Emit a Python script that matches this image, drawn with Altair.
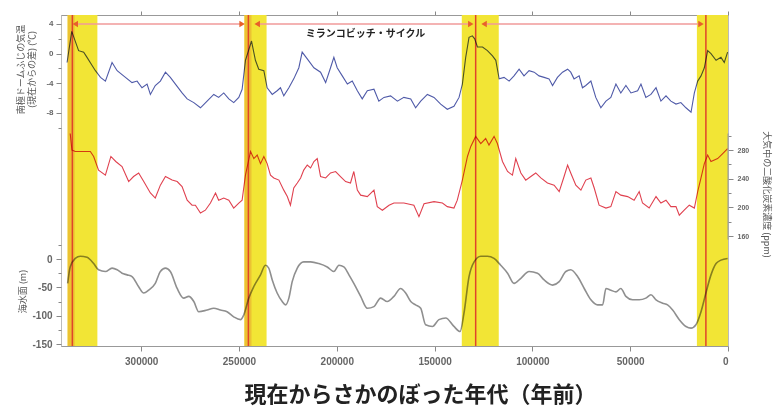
import altair as alt
import pandas as pd

# ---------------- data (kyr before present) ----------------
temp_kyr = [337.9, 335.5, 332.0, 329.4, 327.7, 325.1, 323.4, 320.8, 318.3, 314.9, 312.3, 309.0,
            304.7, 302.1, 299.6, 297.0, 295.3, 292.8, 290.2, 287.6, 285.1, 282.5, 279.1, 276.5,
            273.1, 269.7, 266.3, 262.9, 260.4, 257.8, 255.2, 252.7, 250.1, 248.4, 246.7, 243.6,
            241.6, 239.9, 237.3, 235.6, 233.0, 230.5, 228.8, 227.1, 224.5, 222.0, 219.4, 217.7,
            215.1, 211.7, 208.3, 205.7, 203.2, 201.5, 199.8, 197.2, 194.6, 192.1, 189.5, 187.0,
            184.4, 181.0, 178.5, 175.9, 172.5, 169.0, 165.7, 162.2, 159.7, 157.1, 153.7, 150.3,
            146.9, 143.5, 140.1, 137.5, 135.8, 134.1, 132.4, 130.7, 129.5, 128.1, 125.5, 123.0,
            120.4, 118.7, 117.0, 114.5, 111.9, 109.4, 106.8, 104.3, 101.7, 99.1, 96.6, 94.0,
            91.5, 89.7, 87.2, 84.6, 82.0, 80.4, 78.7, 76.1, 74.4, 72.7, 70.1, 67.6, 65.0, 62.4,
            59.9, 57.3, 54.8, 52.2, 49.6, 46.2, 44.5, 42.0, 39.4, 36.8, 34.3, 31.7, 29.2, 26.6,
            24.1, 21.5, 18.9, 17.2, 15.5, 13.8, 12.1, 10.4, 8.7, 6.1, 3.6, 1.9, 0.2]
temp_val = [-1.2, 3.0, 0.4, 0.2, -0.5, -1.6, -2.3, -3.2, -3.7, -1.2, -2.3, -3.0,
            -3.9, -3.7, -4.6, -4.1, -5.5, -4.3, -3.7, -2.5, -3.2, -4.1, -5.3, -6.1,
            -6.6, -7.3, -6.4, -5.5, -5.9, -5.3, -6.1, -6.6, -5.9, -4.8, -0.9, 1.7,
            -0.9, -2.1, -2.3, -4.6, -5.5, -5.0, -4.6, -5.7, -4.6, -3.4, -1.9, 0.2,
            -0.7, -1.9, -2.5, -3.9, -1.9, -0.5, -1.9, -3.0, -4.1, -3.7, -5.0, -6.1,
            -5.0, -4.8, -6.4, -5.9, -5.7, -6.4, -5.9, -6.1, -7.3, -6.4, -5.5, -5.9,
            -6.8, -7.5, -7.1, -5.9, -4.1, -0.5, 2.2, 2.4, 2.0, 0.9, 0.9, 0.4,
            -0.3, -0.9, -3.4, -3.2, -3.7, -3.0, -2.1, -3.0, -2.3, -2.5, -3.0, -3.2,
            -3.4, -4.3, -3.2, -2.5, -2.1, -2.5, -3.4, -3.0, -4.6, -4.3, -3.7, -5.9, -7.3, -6.4,
            -5.9, -4.1, -5.3, -4.3, -5.3, -5.0, -4.1, -5.9, -5.5, -4.6, -6.4, -5.7, -6.4, -6.8,
            -6.6, -7.3, -7.9, -5.3, -3.7, -3.0, -1.9, 0.4, 0.0, -0.9, -0.5, -1.2, 0.2]

co2_kyr = [336.3, 335.4, 333.7, 326.0, 324.3, 321.8, 318.3, 315.5, 313.0, 309.8, 306.4, 303.9,
           301.3, 298.7, 295.3, 292.8, 290.2, 287.6, 284.2, 281.6, 279.1, 276.5, 274.0, 272.3,
           269.7, 267.2, 264.6, 262.0, 260.4, 257.8, 255.2, 252.7, 250.1, 248.4, 246.7, 244.1,
           242.4, 240.7, 239.0, 237.3, 235.6, 233.9, 232.2, 229.6, 227.1, 225.3, 223.7, 222.0,
           220.2, 218.5, 216.9, 215.1, 213.4, 211.7, 210.0, 208.3, 205.7, 203.2, 200.6, 198.1,
           195.5, 193.0, 191.3, 189.5, 187.8, 184.4, 181.0, 179.3, 176.7, 173.3, 170.8, 165.7,
           160.6, 158.0, 155.4, 150.3, 146.0, 143.5, 140.1, 138.4, 135.8, 133.2, 131.5, 129.0,
           126.4, 123.9, 122.2, 119.6, 117.9, 115.3, 112.7, 110.2, 108.5, 105.9, 103.4, 100.8,
           98.3, 95.7, 92.3, 88.9, 86.3, 83.8, 82.0, 80.4, 77.8, 75.2, 72.7, 70.1, 68.4, 65.9,
           62.4, 59.9, 57.3, 54.8, 51.3, 48.0, 45.4, 43.7, 40.3, 36.8, 34.3, 31.7, 29.2, 26.6,
           24.9, 22.4, 19.8, 17.2, 15.5, 13.8, 12.1, 10.4, 8.7, 5.3, 2.7, 0.2]
co2_val = [303, 280, 278, 278, 271, 252, 245, 271, 264, 257, 236, 243,
           248, 236, 220, 213, 231, 243, 238, 236, 229, 210, 203, 203,
           192, 196, 206, 220, 210, 213, 210, 199, 206, 210, 245, 278,
           268, 273, 261, 271, 261, 245, 241, 238, 224, 215, 203, 227,
           234, 241, 252, 259, 255, 264, 268, 243, 241, 248, 250, 243,
           236, 234, 250, 224, 217, 215, 224, 201, 196, 203, 206, 206,
           203, 187, 205, 208, 206, 201, 199, 210, 238, 271, 285, 299,
           289, 296, 287, 299, 289, 264, 250, 245, 268, 248, 238, 243,
           248, 241, 234, 231, 222, 243, 259, 248, 231, 224, 238, 241, 227, 203,
           199, 201, 222, 217, 215, 210, 222, 206, 199, 215, 206, 210, 201, 201,
           189, 196, 203, 199, 222, 241, 261, 273, 264, 268, 275, 282]

sea_kyr = [337.6, 336.3, 333.7, 331.1, 327.7, 324.3, 321.8, 318.3, 314.9, 312.3, 309.8, 307.2,
           304.7, 301.3, 298.7, 296.2, 292.8, 290.2, 287.6, 285.1, 281.6, 278.3, 275.7, 273.1,
           270.6, 266.3, 262.9, 259.5, 256.1, 252.7, 249.2, 247.6, 245.0, 242.5, 239.0, 236.5,
           234.8, 233.0, 230.5, 227.9, 226.2, 224.5, 222.8, 220.2, 216.9, 213.4, 209.2, 204.9,
           201.5, 198.9, 196.4, 193.8, 191.3, 187.8, 184.4, 181.0, 177.6, 174.2, 170.8, 167.4,
           164.8, 162.2, 159.7, 157.1, 154.6, 151.1, 147.8, 144.3, 140.1, 137.0, 135.0, 132.4,
           129.8, 126.4, 123.0, 119.6, 116.2, 112.7, 109.4, 105.9, 101.7, 97.4, 94.0, 89.7,
           86.3, 82.9, 80.4, 76.9, 73.5, 70.1, 66.7, 64.1, 62.4, 59.9, 57.3, 54.8, 52.2, 48.8,
           45.4, 42.0, 39.4, 36.8, 33.4, 30.9, 28.3, 24.9, 21.5, 18.9, 16.4, 13.8, 11.3, 8.7,
           6.1, 3.6, 0.2]
sea_val = [-43, -14, 1, 5, 3, -8, -19, -22, -16, -19, -25, -28,
           -31, -49, -60, -55, -43, -22, -16, -22, -52, -69, -66, -75,
           -93, -90, -87, -90, -93, -102, -107, -99, -69, -49, -28, -11,
           -16, -37, -60, -75, -81, -69, -40, -16, -5, -5, -8, -14,
           -22, -11, -14, -28, -43, -66, -87, -84, -69, -75, -66, -52,
           -60, -75, -81, -87, -116, -119, -107, -104, -119, -128, -96, -31,
           -5, 5, 5, 1, -11, -25, -43, -34, -22, -25, -37, -46,
           -40, -22, -19, -31, -52, -72, -81, -81, -52, -55, -58, -52, -66, -72,
           -72, -69, -63, -72, -78, -81, -90, -107, -119, -122, -116, -93, -60, -28,
           -8, -2, 1]

# interglacial bands, darker strips, red lines (kyr)
band_start_kyr = [337.6, 247.2, 136.1, 15.9]
band_end_kyr = [322.4, 235.9, 117.2, 0.0]
strip_start_kyr = [337.6, 247.2]
strip_end_kyr = [334.0, 243.6]
redline_kyr = [335.2, 245.2, 129.0, 11.3]
# Milankovitch-cycle arrows
shaft_start_kyr = [333.7, 240.7, 124.7]
shaft_end_kyr = [248.4, 131.5, 13.8]
head_kyr = [333.7, 248.4, 240.7, 131.5, 124.7, 13.8]
head_shape = ["triangle-left", "triangle-right", "triangle-left",
              "triangle-right", "triangle-left", "triangle-right"]
cycle_label = "ミランコビッチ・サイクル"
cycle_label_kyr = 185.3

x_ticks = [300000, 250000, 200000, 150000, 100000, 50000, 0]
temp_ticks = [4, 2, 0, -2, -4, -6, -8, -10]
sea_ticks = [25, 0, -25, -50, -75, -100, -125, -150]
co2_ticks = [300, 280, 260, 240, 220, 200, 180, 160]

# ---------------- frames ----------------
K = 1000
temp_df = pd.DataFrame({"year": [k * K for k in temp_kyr], "v": temp_val})
co2_df = pd.DataFrame({"year": [k * K for k in co2_kyr], "v": co2_val})
sea_df = pd.DataFrame({"year": [k * K for k in sea_kyr], "v": sea_val})
band_df = pd.DataFrame({"a": [k * K for k in band_start_kyr], "b": [k * K for k in band_end_kyr]})
strip_df = pd.DataFrame({"a": [k * K for k in strip_start_kyr], "b": [k * K for k in strip_end_kyr]})
red_df = pd.DataFrame({"year": [k * K for k in redline_kyr]})
shaft_df = pd.DataFrame({"a": [k * K for k in shaft_start_kyr], "b": [k * K for k in shaft_end_kyr]})
head_df = pd.DataFrame({"year": [k * K for k in head_kyr], "shape": head_shape})
label_df = pd.DataFrame({"year": [cycle_label_kyr * K], "t": [cycle_label]})
co2_axis_df = pd.DataFrame({"year": [0], "lo": [155], "hi": [303]})

xs = alt.Scale(domain=[0, 341000], reverse=True, nice=False, zero=False)
T_DOM = [-39.42, 5.21]
C_DOM = [6.5, 468.4]
S_DOM = [-153.5, 430.6]


def LBL(size):
    return dict(labelFont="Liberation Sans", labelFontSize=size, labelColor="#666",
                labelFontWeight="bold")


def minor_expr(step):
    return f"datum.value % {step} == 0 ? replace(datum.label, '\u2212', '-') : ''"


bottom_axis = alt.Axis(orient="bottom", values=x_ticks, format="d", tickSize=5,
                       labelPadding=5, grid=False,
                       title="現在からさかのぼった年代（年前）",
                       titleFont="Noto Sans CJK JP", titleFontSize=22,
                       titleFontWeight="bold", titleColor="#222",
                       titleX=359, titleY=48, titleBaseline="middle", titleAlign="center",
                       **LBL(10))
top_axis = alt.Axis(orient="top", values=x_ticks, labels=False, tickSize=4, grid=False,
                    title=None)


def X(field, axis=None):
    return alt.X(f"{field}:Q", scale=xs, axis=axis, title=None)


bands = alt.Chart(band_df).mark_rect(color="#f2e535").encode(
    x=X("a", bottom_axis), x2="b:Q")
strips = alt.Chart(strip_df).mark_rect(color="#ecc232").encode(x=X("a"), x2="b:Q")
redlines = alt.Chart(red_df).mark_rule(color="#e0452a", strokeWidth=1.5).encode(
    x=X("year", top_axis))

temp_axis = alt.Axis(orient="left", values=temp_ticks, domain=False, grid=False,
                     labelExpr=minor_expr(4),
                     tickSize={"condition": {"test": "datum.value % 4 == 0", "value": 5}, "value": 3},
                     labelPadding=3,
                     title=["南極ドームふじの気温", "(現在からの差) (℃)"],
                     titleAngle=-90, titleX=-41, titleY=54, titleBaseline="middle",
                     titleAlign="center", **LBL(8))
sea_axis = alt.Axis(orient="left", values=sea_ticks, domain=False, grid=False,
                    labelExpr=minor_expr(50),
                    tickSize={"condition": {"test": "datum.value % 50 == 0", "value": 5}, "value": 3},
                    labelPadding=4,
                    title="海水面 (m)", titleAngle=-90, titleX=-39, titleY=276,
                    titleBaseline="middle", titleAlign="center", **LBL(10))
co2_axis = alt.Axis(orient="right", values=co2_ticks, domain=False, grid=False,
                    labelExpr=minor_expr(40),
                    tickSize={"condition": {"test": "datum.value % 40 == 0", "value": 5}, "value": 3},
                    labelPadding=4,
                    title="大気中の二酸化炭素濃度 (ppm)", titleAngle=90, titleX=38, titleY=179,
                    titleBaseline="middle", titleAlign="center", **LBL(7))

temp_line = alt.Chart(temp_df).mark_line(color="#4f5aa8", strokeWidth=1.1, blend="multiply").encode(
    x=X("year"),
    y=alt.Y("v:Q", scale=alt.Scale(domain=T_DOM, nice=False, zero=False), axis=temp_axis))
co2_line = alt.Chart(co2_df).mark_line(color="#e0414f", strokeWidth=1.1, blend="multiply").encode(
    x=X("year"),
    y=alt.Y("v:Q", scale=alt.Scale(domain=C_DOM, nice=False, zero=False), axis=co2_axis))
sea_line = alt.Chart(sea_df).mark_line(color="#8f8f8f", strokeWidth=1.6, blend="multiply",
                                       interpolate="monotone").encode(
    x=X("year"),
    y=alt.Y("v:Q", scale=alt.Scale(domain=S_DOM, nice=False, zero=False), axis=sea_axis))
co2_domain = alt.Chart(co2_axis_df).mark_rule(color="#999", strokeWidth=1).encode(
    x=X("year"),
    y=alt.Y("lo:Q", scale=alt.Scale(domain=C_DOM, nice=False, zero=False), axis=None),
    y2="hi:Q")

shafts = alt.Chart(shaft_df).mark_rule(color="#f19a9a", strokeWidth=1.3).encode(
    x=X("a"), x2="b:Q", y=alt.value(9))
heads = alt.Chart(head_df).mark_point(filled=True, size=40, color="#e8602a", opacity=1).encode(
    x=X("year"), y=alt.value(9), shape=alt.Shape("shape:N", scale=None, legend=None))
label = alt.Chart(label_df).mark_text(font="Noto Sans CJK JP", fontSize=10, fontWeight="bold",
                                      color="#222").encode(
    x=X("year"), y=alt.value(19), text="t:N")

chart = alt.layer(
    bands, strips, redlines, temp_line, co2_line, sea_line, co2_domain, shafts, heads, label
).resolve_scale(
    y="independent"
).resolve_axis(
    x="independent", y="independent"
).properties(
    width=667, height=331,
    autosize=alt.AutoSizeParams(type="none"),
    padding={"left": 53, "top": 7, "right": 46, "bottom": 60},
).configure_view(
    stroke="#bbbbbb", strokeWidth=1
).configure_axis(
    tickColor="#888", domainColor="#999", titleFont="Noto Sans CJK JP", titleFontSize=9,
    titleColor="#555", titleFontWeight="normal"
)

chart.save("out.html", embed_options={"renderer": "svg", "actions": False})
